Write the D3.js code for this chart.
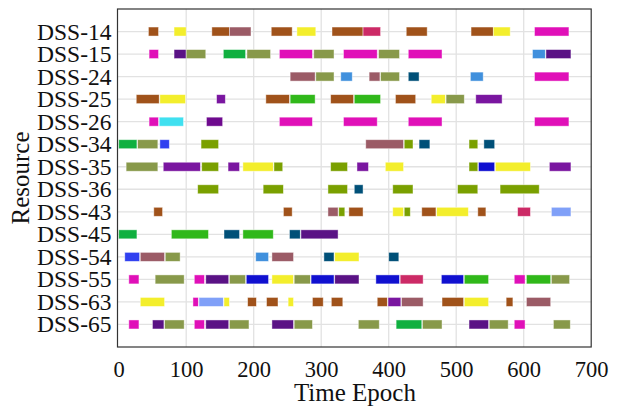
<!DOCTYPE html>
<html>
<head>
<meta charset="utf-8">
<script src="https://cdn.jsdelivr.net/npm/d3@7"></script>
<style>
  body { margin: 0; background: #fff; }
  svg text { font-family: "Liberation Serif", "Times New Roman", serif; fill: #111; }
</style>
</head>
<body>
<div id="chart"></div>
<script>
// Resources (rows, top to bottom)
const resources = ["DSS-14", "DSS-15", "DSS-24", "DSS-25", "DSS-26", "DSS-34", "DSS-35",
                   "DSS-36", "DSS-43", "DSS-45", "DSS-54", "DSS-55", "DSS-63", "DSS-65"];

// Task categories and their colours
const categories = ["M01", "M02", "M03", "M04", "M05", "M06", "M07", "M08", "M09",
                    "M10", "M11", "M12", "M13", "M14", "M15", "M16", "M17", "M18"];
const categoryColors = ["#a0521a", "#f3ee2c", "#9b5b66", "#cc2a66", "#e010b8", "#5a1285",
                        "#88994a", "#10b040", "#4090dd", "#005078", "#7a16a0", "#30b81a",
                        "#40e0f0", "#3040f0", "#1010d0", "#7aa000", "#80a0f8", "#6e0a8e"];

// Tasks per resource: [start, end, category]
const dss14 = [[44, 59, "M01"], [82, 100, "M02"], [138, 164, "M01"], [164, 196, "M03"], [226, 257, "M01"],
               [264, 292, "M02"], [316, 362, "M01"], [362, 388, "M04"], [426, 457, "M01"],
               [522, 555, "M01"], [555, 580, "M02"], [616, 667, "M05"]];
const dss15 = [[45, 59, "M05"], [82, 100, "M06"], [100, 129, "M07"], [155, 188, "M08"], [190, 225, "M07"],
               [238, 287, "M05"], [289, 319, "M07"], [333, 383, "M05"], [385, 416, "M07"],
               [429, 479, "M05"], [613, 632, "M09"], [633, 670, "M06"]];
const dss24 = [[254, 291, "M03"], [292, 319, "M07"], [329, 346, "M09"], [371, 387, "M03"],
               [388, 416, "M07"], [429, 445, "M10"], [521, 540, "M09"], [616, 667, "M05"]];
const dss25 = [[26, 60, "M01"], [61, 99, "M02"], [145, 158, "M11"], [218, 253, "M01"], [254, 291, "M12"],
               [314, 348, "M01"], [349, 388, "M12"], [410, 440, "M01"], [463, 484, "M02"],
               [485, 512, "M07"], [529, 568, "M11"]];
const dss26 = [[45, 59, "M05"], [60, 96, "M13"], [130, 154, "M18"], [238, 287, "M05"],
               [333, 383, "M05"], [429, 479, "M05"], [616, 667, "M05"]];
const dss34 = [[0, 27, "M08"], [28, 58, "M07"], [61, 75, "M14"], [122, 148, "M16"], [366, 422, "M03"],
               [423, 436, "M16"], [445, 461, "M10"], [519, 532, "M16"], [541, 557, "M10"]];
const dss35 = [[11, 58, "M07"], [66, 121, "M11"], [123, 148, "M16"], [162, 179, "M11"], [184, 229, "M02"],
               [230, 243, "M16"], [314, 339, "M16"], [353, 370, "M11"], [395, 422, "M02"],
               [519, 532, "M16"], [533, 557, "M15"], [558, 610, "M02"], [638, 670, "M11"]];
const dss36 = [[117, 148, "M16"], [214, 244, "M16"], [310, 339, "M16"], [349, 362, "M10"],
               [406, 436, "M16"], [502, 532, "M16"], [565, 623, "M16"]];
const dss43 = [[52, 65, "M01"], [244, 257, "M01"], [310, 325, "M03"], [326, 335, "M16"], [341, 362, "M01"],
               [406, 422, "M02"], [423, 432, "M16"], [449, 470, "M01"], [471, 518, "M02"],
               [532, 544, "M01"], [591, 610, "M04"], [641, 670, "M17"]];
const dss45 = [[0, 27, "M08"], [78, 133, "M12"], [156, 179, "M10"], [184, 229, "M12"],
               [253, 269, "M10"], [270, 325, "M06"]];
const dss54 = [[9, 31, "M14"], [32, 68, "M03"], [69, 91, "M07"], [203, 222, "M09"], [227, 259, "M03"],
               [304, 319, "M10"], [320, 356, "M02"], [400, 415, "M10"]];
const dss55 = [[15, 30, "M05"], [54, 97, "M07"], [112, 127, "M05"], [129, 163, "M06"], [164, 188, "M07"],
               [189, 222, "M15"], [227, 259, "M02"], [260, 284, "M07"], [285, 319, "M15"],
               [320, 356, "M06"], [381, 416, "M15"], [417, 451, "M04"], [478, 511, "M15"],
               [512, 548, "M12"], [586, 602, "M05"], [604, 640, "M12"], [641, 668, "M07"]];
const dss63 = [[32, 68, "M02"], [110, 118, "M05"], [119, 155, "M17"], [156, 164, "M02"], [191, 204, "M01"],
               [219, 236, "M01"], [251, 259, "M02"], [287, 303, "M01"], [315, 332, "M01"],
               [383, 398, "M01"], [399, 418, "M11"], [419, 451, "M03"], [479, 511, "M01"],
               [512, 548, "M02"], [574, 584, "M01"], [604, 640, "M03"]];
const dss65 = [[15, 30, "M05"], [50, 67, "M06"], [68, 97, "M07"], [112, 127, "M05"], [129, 163, "M06"],
               [164, 193, "M07"], [227, 259, "M06"], [260, 287, "M07"], [355, 386, "M07"],
               [411, 449, "M08"], [450, 479, "M07"], [519, 548, "M06"], [549, 577, "M07"],
               [586, 602, "M05"], [644, 669, "M07"]];

const tasksByResource = [dss14, dss15, dss24, dss25, dss26, dss34, dss35,
                         dss36, dss43, dss45, dss54, dss55, dss63, dss65];

const xTicks = [0, 100, 200, 300, 400, 500, 600, 700];

function init() {
    const width = 624, height = 410;
    const left = 118.7, right = 591.2, top = 9, bottom = 347;
    const serif = "'Liberation Serif', 'Times New Roman', serif";

    const svg = d3.select("#chart").append("svg")
        .attr("width", width)
        .attr("height", height);

    const x = d3.scaleLinear().domain([0, 700]).range([left, right]);
    const y = d3.scalePoint().domain(resources).range([top, bottom]).padding(1);
    const color = d3.scaleOrdinal().domain(categories).range(categoryColors);

    // grid
    svg.append("g").selectAll("line")
        .data(xTicks.slice(1, -1))
        .enter().append("line")
        .attr("x1", d => x(d)).attr("x2", d => x(d))
        .attr("y1", top).attr("y2", bottom)
        .attr("stroke", "#e2e2e2").attr("stroke-width", 1.3);
    svg.append("g").selectAll("line")
        .data(resources)
        .enter().append("line")
        .attr("x1", 117.5).attr("x2", right)
        .attr("y1", d => y(d)).attr("y2", d => y(d))
        .attr("stroke", "#e2e2e2").attr("stroke-width", 1.3);

    // bars
    const barH = 9;
    const rows = svg.append("g").selectAll("g")
        .data(resources)
        .enter().append("g")
        .attr("transform", d => `translate(0,${y(d)})`);
    rows.selectAll("rect")
        .data((d, i) => tasksByResource[i])
        .enter().append("rect")
        .attr("x", d => x(d[0]))
        .attr("y", -barH / 2)
        .attr("width", d => x(d[1]) - x(d[0]))
        .attr("height", barH)
        .attr("fill", d => color(d[2]))
        .attr("stroke", "rgba(255,255,255,0.55)")
        .attr("stroke-width", 0.8);

    // frame
    svg.append("rect")
        .attr("x", 117.5).attr("y", top)
        .attr("width", right - 117.5).attr("height", bottom - top)
        .attr("fill", "none").attr("stroke", "#333").attr("stroke-width", 1.2);

    // x axis
    const xAxis = d3.axisBottom(x).tickValues(xTicks).tickSize(0).tickPadding(14);
    svg.append("g")
        .attr("transform", `translate(0,${bottom})`)
        .call(xAxis)
        .call(g => g.select(".domain").remove())
        .selectAll("text")
        .attr("font-family", serif)
        .attr("font-size", 22.5)
        .attr("fill", "#111");

    // y axis
    const yAxis = d3.axisLeft(y).tickSize(0).tickPadding(6);
    svg.append("g")
        .attr("transform", `translate(${117.5},0)`)
        .call(yAxis)
        .call(g => g.select(".domain").remove())
        .selectAll("text")
        .attr("font-family", serif)
        .attr("font-size", 23.5)
        .attr("fill", "#111");

    // axis titles
    svg.append("text")
        .attr("x", (left + right) / 2).attr("y", 401)
        .attr("text-anchor", "middle")
        .attr("font-family", serif)
        .attr("font-size", 25)
        .text("Time Epoch");
    svg.append("text")
        .attr("transform", `translate(29,${(top + bottom) / 2}) rotate(-90)`)
        .attr("text-anchor", "middle")
        .attr("font-family", serif)
        .attr("font-size", 25)
        .text("Resource");
}
window.onload = init;
</script>
</body>
</html>
